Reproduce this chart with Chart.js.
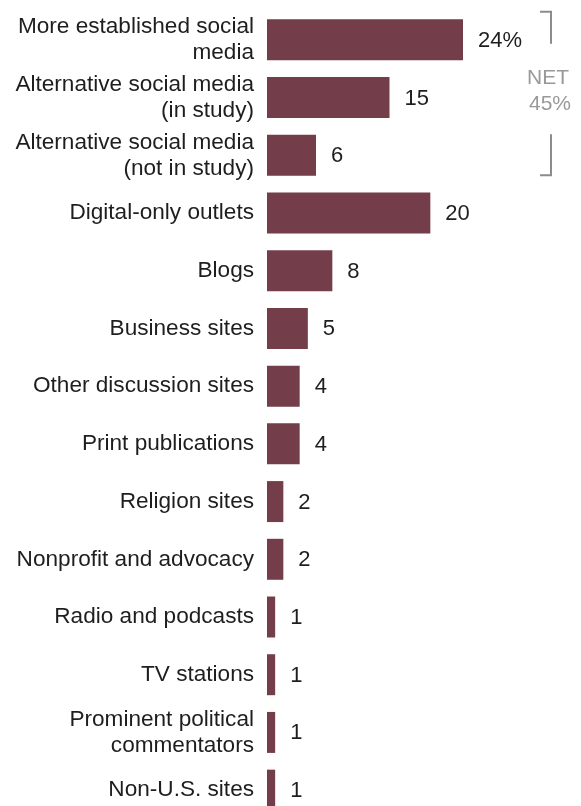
<!DOCTYPE html>
<html>
<head>
<meta charset="utf-8">
<script src="https://cdn.jsdelivr.net/npm/chart.js@4.4.1/dist/chart.umd.min.js"></script>
<style>
  html, body { margin: 0; padding: 0; background: #fff; overflow: hidden; }
  #wrap { position: relative; width: 581px; height: 819px; }
</style>
</head>
<body>
<div id="wrap"><canvas id="chart"></canvas></div>
<script>
const categories = [
  ['More established social', 'media'],
  ['Alternative social media', '(in study)'],
  ['Alternative social media', '(not in study)'],
  'Digital-only outlets',
  'Blogs',
  'Business sites',
  'Other discussion sites',
  'Print publications',
  'Religion sites',
  'Nonprofit and advocacy',
  'Radio and podcasts',
  'TV stations',
  ['Prominent political', 'commentators'],
  'Non-U.S. sites',
];
const values = [24, 15, 6, 20, 8, 5, 4, 4, 2, 2, 1, 1, 1, 1];
const netLabel = ['NET', '45%'];

const BAR = '#733d4a';
const FONT = '"Liberation Sans", Arial, sans-serif';

const valueLabels = {
  id: 'valueLabels',
  afterDatasetsDraw(chart) {
    const { ctx } = chart;
    const meta = chart.getDatasetMeta(0);
    ctx.save();
    ctx.font = '22px ' + FONT;
    ctx.fillStyle = '#1e1e1e';
    ctx.textBaseline = 'middle';
    ctx.textAlign = 'left';
    meta.data.forEach((bar, i) => {
      const txt = i === 0 ? values[i] + '%' : String(values[i]);
      ctx.fillText(txt, bar.x + 15, bar.y + 1);
    });
    ctx.restore();
  },
};

const netBracket = {
  id: 'netBracket',
  afterDraw(chart) {
    const { ctx } = chart;
    const y = chart.scales.y;
    const top = y.getPixelForValue(0) - 28;
    const bottom = y.getPixelForValue(2) + 20;
    const x = 551;
    ctx.save();
    ctx.strokeStyle = '#8c8c8c';
    ctx.lineWidth = 2;
    ctx.beginPath();
    ctx.moveTo(540, top);
    ctx.lineTo(x, top);
    ctx.lineTo(x, top + 32);
    ctx.moveTo(x, bottom - 41);
    ctx.lineTo(x, bottom);
    ctx.lineTo(540, bottom);
    ctx.stroke();
    ctx.font = '21px ' + FONT;
    ctx.fillStyle = '#999';
    ctx.textAlign = 'center';
    ctx.textBaseline = 'middle';
    const mid = y.getPixelForValue(1);
    ctx.fillText(netLabel[0], 548, mid - 19);
    ctx.fillText(netLabel[1], 550, mid + 7);
    ctx.restore();
  },
};

new Chart(document.getElementById('chart'), {
  type: 'bar',
  data: {
    labels: categories,
    datasets: [
      {
        data: values,
        backgroundColor: BAR,
        borderWidth: 0,
        barPercentage: 0.71,
        categoryPercentage: 1,
      },
    ],
  },
  options: {
    indexAxis: 'y',
    responsive: true,
    maintainAspectRatio: false,
    animation: false,
    layout: { padding: { top: 11, right: 69, bottom: 0, left: 0 } },
    plugins: { legend: { display: false }, tooltip: { enabled: false } },
    scales: {
      x: { display: false, min: 0, max: 30 },
      y: {
        grid: { display: false, drawTicks: false },
        border: { display: false },
        ticks: {
          color: '#1e1e1e',
          padding: 13,
          font: { family: FONT, size: 22.6, lineHeight: 1.15 },
        },
        afterFit(scale) {
          scale.width = 267;
          scale.paddingTop = 0;
          scale.paddingBottom = 0;
        },
      },
    },
  },
  plugins: [valueLabels, netBracket],
});
</script>
</body>
</html>
